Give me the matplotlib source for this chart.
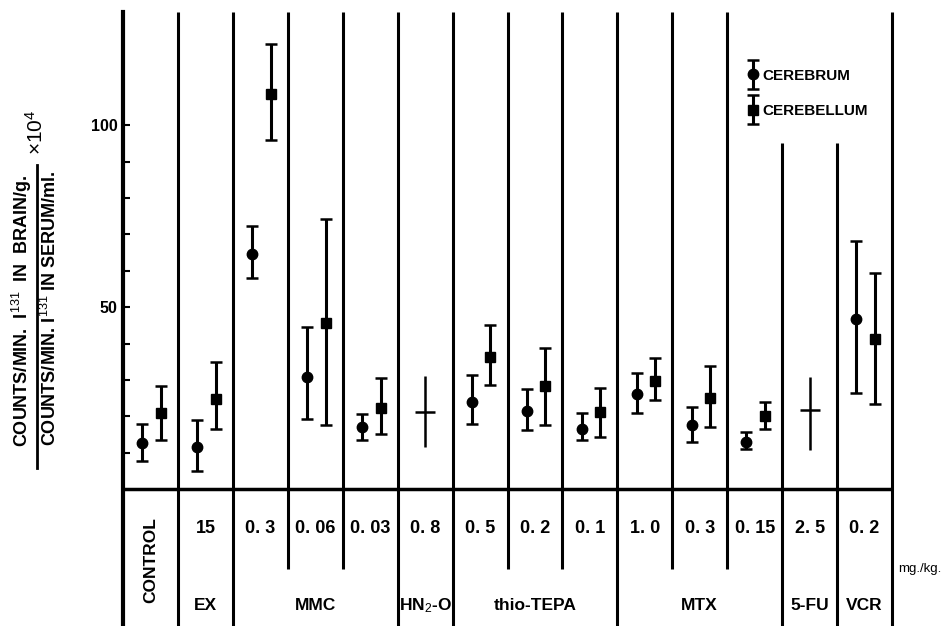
import numpy as np
import matplotlib
matplotlib.use("Agg")
import matplotlib.pyplot as plt
from matplotlib.lines import Line2D
from matplotlib.legend_handler import HandlerErrorbar

plt.rcParams["mathtext.fontset"] = "custom"
plt.rcParams["mathtext.rm"] = "Liberation Sans"
plt.rcParams["mathtext.it"] = "Liberation Sans:italic"
plt.rcParams["mathtext.bf"] = "Liberation Sans:bold"

nan = np.nan
# ---- data ----
dose_labels = ["", "15", "0. 3", "0. 06", "0. 03", "0. 8", "0. 5", "0. 2", "0. 1",
               "1. 0", "0. 3", "0. 15", "2. 5", "0. 2"]
group_names = ["CONTROL", "EX", "MMC", "HN$_2$-O", "thio-TEPA", "MTX", "5-FU", "VCR"]
group_sizes = [1, 1, 3, 1, 3, 3, 1, 1]

cerebrum_mean = [12.7, 11.6, 64.7, 30.9, 17.0, nan, 23.8, 21.4, 16.6, 26.2, 17.5, 12.9, nan, 46.8]
cerebrum_hi   = [18.0, 19.1, 72.2, 44.5, 20.5, nan, 31.3, 27.5, 20.9, 32.0, 22.5, 15.6, nan, 68.3]
cerebrum_lo   = [7.7,  5.0,  58.0, 19.3, 13.6, nan, 17.9, 16.2, 13.4, 20.9, 13.0, 10.9, nan, 26.5]
cerebellum_mean = [20.9, 24.7, 108.6, 45.7, 22.4, nan, 36.3, 28.2, 21.2, 29.7, 25.0, 20.0, nan, 41.2]
cerebellum_hi   = [28.2, 35.0, 122.3, 74.3, 30.6, nan, 45.0, 38.8, 27.7, 35.9, 33.8, 23.9, nan, 59.3]
cerebellum_lo   = [13.6, 16.5, 96.1,  17.7, 15.0, nan, 28.6, 17.7, 14.3, 24.5, 17.0, 16.5, nan, 23.3]
whole_mean = [nan, nan, nan, nan, nan, 21.1, nan, nan, nan, nan, nan, nan, 21.6, nan]
whole_hi   = [nan, nan, nan, nan, nan, 31.1, nan, nan, nan, nan, nan, nan, 30.9, nan]
whole_lo   = [nan, nan, nan, nan, nan, 11.5, nan, nan, nan, nan, nan, nan, 10.6, nan]

yticks = [10, 20, 30, 40, 50, 60, 70, 80, 90, 100]
ytick_labels = ["", "", "", "", "50", "", "", "", "", "100"]

# ---- figure ----
W, H = 947, 626
fig = plt.figure(figsize=(W / 100, H / 100), dpi=100)
ax = fig.add_axes([123 / W, 0, (892 - 123) / W, (626 - 12) / H])
ymin, ymax = -37.7, 131.2
ax.set_xlim(0, 14)
ax.set_ylim(ymin, ymax)
for s in ["top", "right", "bottom"]:
    ax.spines[s].set_visible(False)
ax.spines["left"].set_linewidth(3)
ax.set_xticks([])
ax.set_yticks(yticks)
ax.set_yticklabels(ytick_labels)
ax.tick_params(axis="y", direction="in", length=5, width=1.5, pad=4)
for t in ax.get_yticklabels():
    t.set_family(["Liberation Sans", "DejaVu Sans"])
    t.set_fontweight("bold")
    t.set_fontsize(11.5)

n = len(dose_labels)
idx = np.arange(n)
black = "black"

# separators
bounds = np.cumsum(group_sizes)
inner = [b for b in range(1, n) if b not in bounds]
short_top = [12, 13]
for k in range(1, n + 1):
    top = 95.2 if k in short_top else ymax
    bot = -22.0 if k in inner else ymin
    ax.vlines(k, bot, top, color=black, lw=2.2, clip_on=False)
ax.axhline(0, color=black, lw=2.5)

def eb(mean, lo, hi, off, marker, ms, label=None):
    mean = np.array(mean); lo = np.array(lo); hi = np.array(hi)
    return ax.errorbar(idx + off, mean, yerr=[mean - lo, hi - mean], fmt=marker, ms=ms,
                       color=black, ecolor=black, elinewidth=2.2, capsize=4.5, capthick=1.8,
                       label=label)

c1 = eb(cerebrum_mean, cerebrum_lo, cerebrum_hi, 0.35, "o", 7.5, "CEREBRUM")
c2 = eb(cerebellum_mean, cerebellum_lo, cerebellum_hi, 0.69, "s", 7, "CEREBELLUM")
wm = np.array(whole_mean); wl = np.array(whole_lo); wh = np.array(whole_hi)
ax.errorbar(idx + 0.5, wm, yerr=[wm - wl, wh - wm], fmt="_", ms=15, mew=1.8,
            color=black, ecolor=black, elinewidth=1.8, capsize=0)

leg = ax.legend(handles=[c1, c2], loc="upper left", bbox_to_anchor=(735 / W, 1 - 55 / H),
                bbox_transform=fig.transFigure, frameon=False,
                handlelength=0.6, handletextpad=0.3, labelspacing=1.4,
                handler_map={type(c1): HandlerErrorbar(yerr_size=0.95)},
                prop={"family": ["Liberation Sans", "DejaVu Sans"], "weight": "bold", "size": 11})

# table labels
num_font = dict(family=["Liberation Sans", "DejaVu Sans"], fontweight="bold", fontsize=13)
for i, lab in enumerate(dose_labels):
    if lab:
        ax.text(i + 0.5, -11.0, lab, ha="center", va="center", **num_font)
grp_font = dict(family=["Liberation Sans", "DejaVu Sans"], fontweight="bold", fontsize=12.5)
start = 0
for name, size in zip(group_names, group_sizes):
    cx = start + size / 2
    if name == "CONTROL":
        ax.text(cx, -19.5, name, ha="center", va="center", rotation=90, **grp_font)
    else:
        ax.text(cx, -32.0, name, ha="center", va="center", **grp_font)
    start += size
ax.text(14.11, -22.0, "mg./kg.", ha="left", va="center", clip_on=False,
        family=["Liberation Sans", "DejaVu Sans"], fontsize=9.5)

# y label (fraction)
lab_font = dict(family=["Liberation Sans", "DejaVu Sans"], fontweight="bold", fontsize=13)
fig.text(22 / W, 1 - 311 / H, "COUNTS/MIN.  I$^{131}$  IN  BRAIN/g.", rotation=90,
         ha="center", va="center", **lab_font)
fig.text(50 / W, 1 - 308 / H, "COUNTS/MIN. I$^{131}$ IN SERUM/ml.", rotation=90,
         ha="center", va="center", **lab_font)
fig.add_artist(Line2D([37 / W, 37 / W], [1 - 165 / H, 1 - 468 / H], color=black, lw=2,
                      transform=fig.transFigure))
fig.text(36 / W, 1 - 132 / H, "×10$^4$", rotation=90, ha="center", va="center",
         family=["Liberation Sans", "DejaVu Sans"], fontsize=15)

fig.savefig("out.png", dpi=100, facecolor="white")
